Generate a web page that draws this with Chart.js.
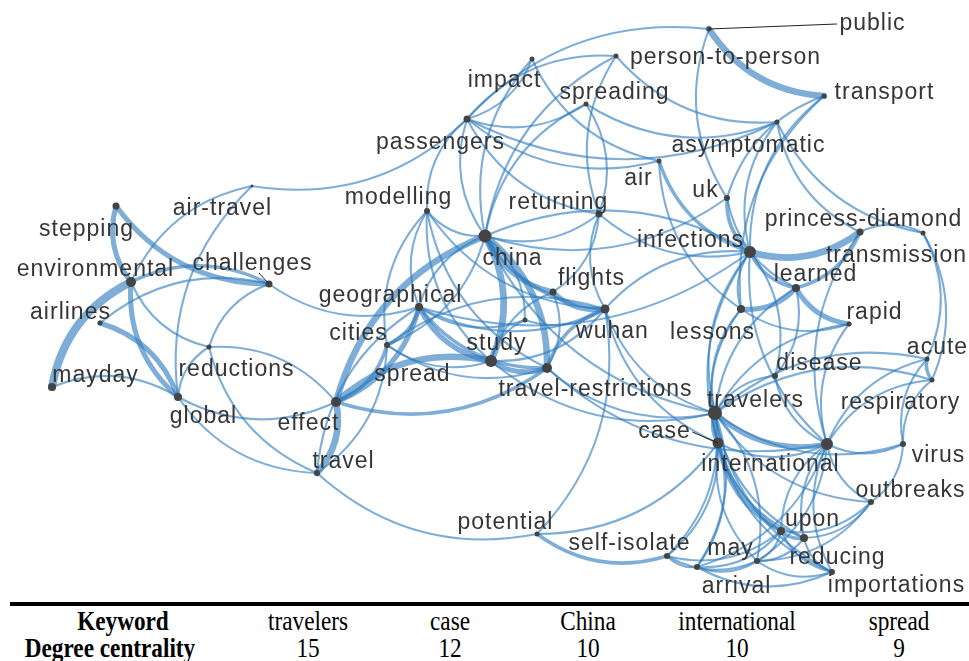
<!DOCTYPE html>
<html>
<head>
<meta charset="utf-8">
<script src="https://cdn.jsdelivr.net/npm/chart.js@4.4.1/dist/chart.umd.min.js"></script>
<style>
  body { margin: 0; background: #fff; width: 969px; height: 661px; overflow: hidden; position: relative; }
  #net { position: absolute; left: 0; top: 0; }
  .rule { position: absolute; left: 10px; right: 0; top: 602px; height: 4px; background: #000; }
  .cell { position: absolute; font-family: "Liberation Serif", "Times New Roman", serif; font-size: 27px;
          line-height: 27px; white-space: nowrap; color: #000; transform: translateX(-50%) scaleX(0.86); }
  .cell.b { font-weight: bold; }
</style>
</head>
<body>
<canvas id="net" width="969" height="598"></canvas>
<div class="rule"></div>
<div id="table"></div>
<script>
  // keyword network: node positions, sizes and label spots
  const nodeNames = ['public','person-to-person','impact','spreading','transport','passengers','asymptomatic','air','uk','modelling',
    'returning','air-travel','stepping','china','infections','princess-diamond','transmission','environmental','challenges','flights',
    'learned','geographical','wuhan','airlines','lessons','rapid','cities','study','acute','reductions',
    'spread','disease','mayday','travel-restrictions','travelers','respiratory','global','effect','case','international',
    'virus','travel','outbreaks','potential','upon','self-isolate','may','reducing','arrival','importations'];
  const nodeX = [709,616,532,586,824,467,777,659,727,427, 599,252,116,485,750,860,923,131,269,553,
    796,419,605,100,741,849,387,491,927,209, 336,775,52,547,715,932,178,525,718,827, 903,317,871,537,781,667,757,804,697,832];
  const nodeY = [29,56,59,104,96,119,122,161,198,211, 214,186,206,236,252,232,233,282,284,292,
    288,307,309,323,309,324,345,361,359,347, 402,376,387,368,413,380,397,320,443,444, 444,473,502,534,531,556,561,538,567,572];
  const nodeRadius = [2.5,2.5,2.5,2.5,2.5,3.5,2.5,2.5,3,3, 3.5,1.5,3.5,6.5,6,3.5,2.5,5,3.5,3.5,
    4,4,4.5,2.5,4,2.5,3,6,2.5,2.5, 5,3,4,5,7,2.5,4,2.5,5.5,6, 3,3,3,2.5,4,3,3,4,3,3];
  const labelX = [872,725,504,614,884,440,748,638,705,398, 558,222,86,512,690,863,896,95,252,591,
    815,390,612,70,712,874,358,496,937,236, 412,819,95,595,755,900,203,308,664,770, 938,343,910,505,812,629,730,837,736,896];
  const labelY = [24,58,81,93,93,143,146,179,191,198, 203,209,230,259,241,220,256,270,264,279,
    275,296,332,313,333,313,334,344,348,370, 375,364,376,390,401,403,417,424,432,465, 456,462,491,523,520,544,549,558,587,586];
  const leaderLabels = ['public','challenges','case'];

  // co-occurrence links: [from, to, weight]
  const edges = [
    ['environmental','mayday',5], ['stepping','environmental',3], ['stepping','challenges',3], ['challenges','environmental',2],
    ['environmental','global',3], ['global','airlines',3], ['challenges','airlines',1], ['global','mayday',1],
    ['environmental','reductions',1], ['spread','reductions',1], ['reductions','global',1], ['challenges','reductions',1],
    ['reductions','travel',1], ['air-travel','global',1], ['air-travel','environmental',1], ['air-travel','passengers',1],
    ['global','spread',1], ['global','travel',1], ['challenges','geographical',1], ['travel','spread',4],
    ['study','spread',4], ['china','spread',4], ['spread','geographical',3], ['spread','cities',2], ['spread','travel-restrictions',2],
    ['travel','cities',1], ['geographical','travel',1], ['travel','potential',1],
    ['study','china',4], ['travel-restrictions','china',4], ['china','flights',3], ['flights','wuhan',3], ['china','wuhan',2],
    ['geographical','study',3], ['geographical','travel-restrictions',2], ['geographical','wuhan',1], ['cities','geographical',2],
    ['china','geographical',1], ['cities','china',1], ['cities','study',1], ['cities','travel-restrictions',1], ['wuhan','cities',1],
    ['study','travel-restrictions',3], ['study','wuhan',1], ['flights','study',1], ['effect','study',1],
    ['flights','returning',1], ['travel-restrictions','flights',1], ['wuhan','travel-restrictions',2], ['returning','wuhan',1],
    ['china','returning',1], ['effect','china',1], ['geographical','effect',1], ['effect','wuhan',1],
    ['modelling','china',1], ['modelling','geographical',1], ['modelling','cities',1], ['modelling','study',1],
    ['modelling','travel-restrictions',1], ['modelling','wuhan',1],
    ['public','passengers',1], ['passengers','impact',1], ['passengers','spreading',1], ['person-to-person','passengers',1],
    ['passengers','asymptomatic',1], ['passengers','air',1], ['passengers','returning',1], ['passengers','modelling',1],
    ['passengers','china',1], ['impact','air',1], ['impact','china',1],
    ['person-to-person','returning',1], ['person-to-person','china',1], ['person-to-person','asymptomatic',1],
    ['spreading','asymptomatic',1], ['spreading','china',1], ['returning','spreading',1],
    ['public','transport',4], ['public','uk',1], ['transport','uk',1], ['transport','infections',1], ['transport','lessons',1],
    ['asymptomatic','princess-diamond',1], ['asymptomatic','transmission',1], ['asymptomatic','infections',1],
    ['air','infections',2], ['air','lessons',1], ['uk','infections',2], ['uk','learned',1], ['china','uk',1],
    ['infections','china',1], ['infections','wuhan',1], ['geographical','infections',1], ['returning','infections',1],
    ['infections','travelers',1], ['infections','international',1], ['infections','case',1], ['infections','lessons',1],
    ['infections','learned',2], ['infections','princess-diamond',4], ['transmission','princess-diamond',1],
    ['learned','princess-diamond',2], ['princess-diamond','international',1], ['lessons','learned',3], ['learned','rapid',3],
    ['respiratory','transmission',1], ['acute','transmission',1],
    ['lessons','rapid',1], ['rapid','international',1], ['rapid','travelers',1],
    ['disease','infections',1], ['disease','travelers',1], ['disease','international',1], ['disease','learned',1],
    ['acute','travelers',1], ['acute','international',1], ['acute','respiratory',2], ['acute','virus',1],
    ['respiratory','travelers',1], ['respiratory','international',1], ['respiratory','virus',1],
    ['travelers','international',3], ['travelers','case',2], ['travelers','virus',1], ['travelers','outbreaks',1],
    ['travelers','upon',2], ['travelers','reducing',1], ['may','travelers',1], ['arrival','travelers',1],
    ['self-isolate','travelers',1], ['travelers','importations',1], ['wuhan','travelers',1], ['travel-restrictions','travelers',1],
    ['china','travelers',1], ['study','travelers',1], ['lessons','travelers',1], ['learned','travelers',1],
    ['case','upon',2], ['case','may',1], ['arrival','case',1], ['self-isolate','case',1], ['case','reducing',1],
    ['case','importations',1], ['case','international',1], ['wuhan','case',1], ['potential','case',1], ['lessons','case',1],
    ['international','virus',1], ['international','outbreaks',1], ['international','upon',1], ['international','reducing',1],
    ['may','international',1], ['arrival','international',1], ['international','importations',1],
    ['travel-restrictions','international',1],
    ['outbreaks','virus',1], ['upon','outbreaks',1], ['may','outbreaks',1], ['reducing','outbreaks',1],
    ['upon','reducing',2], ['may','upon',1], ['upon','importations',1], ['arrival','upon',1], ['self-isolate','upon',1],
    ['reducing','importations',1], ['may','reducing',1],
    ['arrival','may',1], ['self-isolate','may',1], ['may','importations',1], ['self-isolate','arrival',1],
    ['potential','self-isolate',2], ['arrival','importations',1], ['potential','wuhan',1]
  ];

  const tableKeywords = ['travelers', 'case', 'China', 'international', 'spread'];
  const tableDegree = [15, 12, 10, 10, 9];
  const tableCenters = [308, 450, 588, 737, 899];

  const idx = name => nodeNames.indexOf(name);

  const edgePlugin = {
    id: 'edgeArcs',
    beforeDatasetsDraw(chart) {
      const { ctx, scales: { x, y } } = chart;
      ctx.save();
      ctx.lineCap = 'round';
      ctx.strokeStyle = 'rgba(46,125,190,0.62)';
      edges.forEach(([a, b, w]) => {
        const i = idx(a), j = idx(b);
        const x1 = x.getPixelForValue(nodeX[i]), y1 = y.getPixelForValue(nodeY[i]);
        const x2 = x.getPixelForValue(nodeX[j]), y2 = y.getPixelForValue(nodeY[j]);
        const dx = x2 - x1, dy = y2 - y1;
        const bend = 0.25;
        ctx.lineWidth = 0.6 + 1.5 * w;
        ctx.beginPath();
        ctx.moveTo(x1, y1);
        ctx.quadraticCurveTo((x1 + x2) / 2 - bend * dy, (y1 + y2) / 2 + bend * dx, x2, y2);
        ctx.stroke();
      });
      ctx.restore();
    }
  };

  const labelPlugin = {
    id: 'nodeLabels',
    afterDatasetsDraw(chart) {
      const { ctx, scales: { x, y } } = chart;
      ctx.save();
      ctx.font = '23px "Liberation Sans", Arial, sans-serif';
      ctx.letterSpacing = '1px';
      ctx.textAlign = 'center';
      ctx.textBaseline = 'middle';
      nodeNames.forEach((name, i) => {
        const lx = x.getPixelForValue(labelX[i]), ly = y.getPixelForValue(labelY[i]);
        if (leaderLabels.includes(name)) {
          const half = ctx.measureText(name).width / 2;
          const nx = x.getPixelForValue(nodeX[i]), ny = y.getPixelForValue(nodeY[i]);
          let ex, ey;
          if (nx < lx - half || nx > lx + half) {
            ex = nx < lx ? lx - half - 2 : lx + half + 2;
            ey = ly;
          } else {
            ex = Math.min(Math.max(nx - 10, lx - half), lx + half);
            ey = ny < ly ? ly - 10 : ly + 9;
          }
          ctx.strokeStyle = '#222';
          ctx.lineWidth = 1;
          ctx.beginPath();
          ctx.moveTo(nx, ny);
          ctx.lineTo(ex, ey);
          ctx.stroke();
        }
        ctx.fillStyle = '#363636';
        ctx.fillText(name, lx + 0.5, ly);
      });
      ctx.restore();
    }
  };

  new Chart(document.getElementById('net'), {
    type: 'scatter',
    data: {
      datasets: [{
        data: nodeNames.map((n, i) => ({ x: nodeX[i], y: nodeY[i] })),
        pointRadius: nodeRadius,
        pointBackgroundColor: '#444',
        pointBorderWidth: 0
      }]
    },
    options: {
      responsive: false,
      animation: false,
      layout: { padding: 0, autoPadding: false },
      plugins: { legend: { display: false }, tooltip: { enabled: false } },
      scales: {
        x: { type: 'linear', min: 0, max: 969, display: false },
        y: { type: 'linear', min: 0, max: 598, reverse: true, display: false }
      }
    },
    plugins: [edgePlugin, labelPlugin]
  });

  // summary table under the network
  const table = document.getElementById('table');
  function cell(text, cx, cy, bold) {
    const d = document.createElement('div');
    d.className = bold ? 'cell b' : 'cell';
    d.textContent = text;
    d.style.left = cx + 'px';
    d.style.top = (cy - 13) + 'px';
    table.appendChild(d);
  }
  cell('Keyword', 123, 621, true);
  cell('Degree centrality', 110, 648, true);
  tableKeywords.forEach((k, i) => {
    cell(k, tableCenters[i], 621, false);
    cell(String(tableDegree[i]), tableCenters[i], 648, false);
  });
</script>
</body>
</html>
